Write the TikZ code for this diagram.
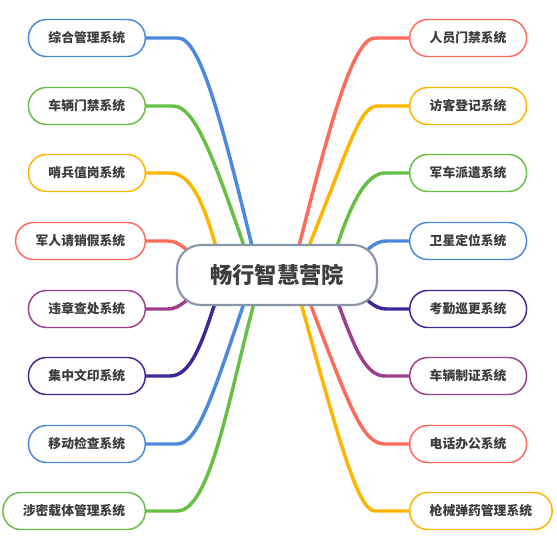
\documentclass[tikz,border=0pt]{standalone}
\usepackage{fontspec}
\newfontfamily\cjk{Noto Sans CJK SC}
\usetikzlibrary{calc, backgrounds}
\definecolor{MapBlue}{HTML}{4A89DC}
\definecolor{MapGreen}{HTML}{66C044}
\definecolor{MapYellow}{HTML}{FFB400}
\definecolor{MapRed}{HTML}{FF6B5B}
\definecolor{MapPurple}{HTML}{9C3F8D}
\definecolor{MapIndigo}{HTML}{3B2A94}
\definecolor{MapHub}{HTML}{8896A8}
\definecolor{MapText}{HTML}{3D3D3D}
\tikzset{
    % Branch boxes with round ends
    topic/.style={
        rectangle,
        rounded corners=13.5pt,
        draw,
        fill=white,
        line width=1.1pt,
        minimum height=27.75pt,
        inner xsep=15pt,
        inner ysep=0pt,
        text=MapText,
        font=\cjk\bfseries\fontsize{9.6}{11}\selectfont
    },
    topic left/.style={
        topic,
        anchor=east
    },
    topic right/.style={
        topic,
        anchor=west
    },
    hub box/.style={
        rectangle,
        rounded corners=18pt,
        draw=MapHub,
        fill=white,
        line width=1.6pt,
        minimum width=150pt,
        minimum height=45pt,
        text=MapText,
        font=\cjk\bfseries\fontsize{16.7}{19}\selectfont
    },
    branch/.style={
        line width=2.6pt,
        line cap=butt
    }
}

\begin{document}
\begin{tikzpicture}[x=0.75pt, y=0.75pt]
        % Centre
        \node[hub box] (hub) at (277,-275) {畅行智慧营院};

        % Left topics
        \node[topic left, draw=MapBlue] (l1) at (146,-38) {综合管理系统};
        \node[topic left, draw=MapGreen] (l2) at (146,-106) {车辆门禁系统};
        \node[topic left, draw=MapYellow] (l3) at (146,-173) {哨兵值岗系统};
        \node[topic left, draw=MapRed] (l4) at (146,-241) {军人请销假系统};
        \node[topic left, draw=MapPurple] (l5) at (146,-309) {违章查处系统};
        \node[topic left, draw=MapIndigo] (l6) at (146,-376) {集中文印系统};
        \node[topic left, draw=MapBlue] (l7) at (146,-444) {移动检查系统};
        \node[topic left, draw=MapGreen] (l8) at (146,-511) {涉密载体管理系统};

        % Right topics
        \node[topic right, draw=MapRed] (r1) at (409,-38) {人员门禁系统};
        \node[topic right, draw=MapYellow] (r2) at (409,-106) {访客登记系统};
        \node[topic right, draw=MapGreen] (r3) at (409,-173) {军车派遣系统};
        \node[topic right, draw=MapBlue] (r4) at (409,-241) {卫星定位系统};
        \node[topic right, draw=MapIndigo] (r5) at (409,-309) {考勤巡更系统};
        \node[topic right, draw=MapPurple] (r6) at (409,-376) {车辆制证系统};
        \node[topic right, draw=MapRed] (r7) at (409,-444) {电话办公系统};
        \node[topic right, draw=MapYellow] (r8) at (409,-511) {枪械弹药管理系统};

        % Page and branches, under the boxes
        \begin{scope}[on background layer]
            \fill[white] (0,0) rectangle (557,-548);

            \draw[branch, MapBlue] (l1.east) -- ++(32,0) .. controls +(22,0) and +(-31,127) .. ($(hub.north)+(-25,-2)$);
            \draw[branch, MapGreen] (l2.east) -- ++(27,0) .. controls +(22,0) and +(-30,87) .. ($(hub.north)+(-33,-2)$);
            \draw[branch, MapYellow] (l3.east) -- ++(24,0) .. controls +(21,0) and +(-12,43) .. ($(hub.north)+(-61,-3)$);
            \draw[branch, MapRed] (l4.east) -- ++(22,0) .. controls +(12,0) and +(-10,10) .. ($(hub.west)+(23,13)$);
            \draw[branch, MapPurple] (l5.east) -- ++(22,0) .. controls +(12,0) and +(-10,-10) .. ($(hub.west)+(23,-13)$);
            \draw[branch, MapIndigo] (l6.east) -- ++(24,0) .. controls +(20,0) and +(-14,-43) .. ($(hub.south)+(-62,3)$);
            \draw[branch, MapBlue] (l7.east) -- ++(31,0) .. controls +(20,0) and +(-33,-98) .. ($(hub.south)+(-33,3)$);
            \draw[branch, MapGreen] (l8.east) -- ++(31,0) .. controls +(33,0) and +(-26,-98) .. ($(hub.south)+(-23,3)$);

            \draw[branch, MapRed] (r1.west) -- ++(-34,0) .. controls +(-22,0) and +(31,122) .. ($(hub.north)+(22,-2)$);
            \draw[branch, MapYellow] (r2.west) -- ++(-31,0) .. controls +(-18,0) and +(43,107) .. ($(hub.north)+(32,-2)$);
            \draw[branch, MapGreen] (r3.west) -- ++(-24,0) .. controls +(-19,0) and +(14,42) .. ($(hub.north)+(60,-2)$);
            \draw[branch, MapBlue] (r4.west) -- ++(-23,0) .. controls +(-12,0) and +(10,10) .. ($(hub.east)+(-23,13)$);
            \draw[branch, MapIndigo] (r5.west) -- ++(-23,0) .. controls +(-12,0) and +(10,-10) .. ($(hub.east)+(-23,-13)$);
            \draw[branch, MapPurple] (r6.west) -- ++(-24,0) .. controls +(-20,0) and +(16,-43) .. ($(hub.south)+(61,3)$);
            \draw[branch, MapRed] (r7.west) -- ++(-24,0) .. controls +(-22,0) and +(41,-108) .. ($(hub.south)+(33,3)$);
            \draw[branch, MapYellow] (r8.west) -- ++(-34,0) .. controls +(-17,0) and +(38,-138) .. ($(hub.south)+(24,3)$);
        \end{scope}
    \end{tikzpicture}
\end{document}
